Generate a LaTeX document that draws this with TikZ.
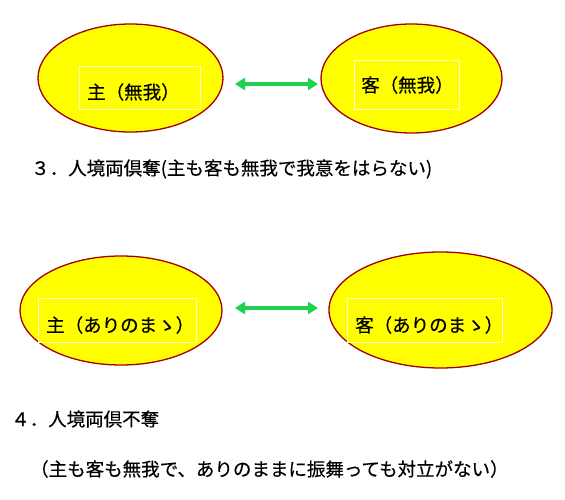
\documentclass[tikz,border=0pt]{standalone}
\usepackage{fontspec}
\setmainfont{Noto Sans CJK JP}[FakeBold=0.6,AutoFakeBold=0]
\newfontfamily\cjkfont{Noto Sans CJK JP}[FakeBold=0.4]
\usetikzlibrary{arrows.meta,shapes.geometric}
\definecolor{ellfill}{RGB}{255,255,0}
\definecolor{ellline}{RGB}{165,0,0}
\definecolor{arrgreen}{RGB}{30,210,80}
\definecolor{boxline}{RGB}{255,255,200}
\begin{document}
\begin{tikzpicture}[x=1pt,y=-1pt,
  ell/.style={ellipse,draw=ellline,fill=ellfill,line width=1.3pt,inner sep=0pt},
  tbox/.style={rectangle,draw=boxline,line width=0.7pt,inner sep=0pt},
  lbl/.style={inner sep=0pt,anchor=west,font=\cjkfont\fontsize{18.5}{22}\selectfont},
  arr/.style={arrgreen,line width=3.8pt,{Triangle[length=10pt,width=12pt]}-{Triangle[length=10pt,width=12pt]}}]
\useasboundingbox[fill=white] (0,0) rectangle (565,500);
% row 1
\node[ell,minimum width=185pt,minimum height=108pt] (e1) at (130.5,78) {};
\node[ell,minimum width=181pt,minimum height=109pt] (e2) at (411.5,78.5) {};
\node[tbox,minimum width=121pt,minimum height=43pt] (b1) at (139.5,87.5) {};
\node[tbox,minimum width=105pt,minimum height=49pt] (b2) at (406.5,84.5) {};
\node[lbl] (t1) at (87,92) {主（無我）};
\node[lbl] (t2) at (361,85) {客（無我）};
\coordinate (a1) at (235,84);
\coordinate (c1) at (318,84);
\draw[arr] (a1) -- (c1);
\node[lbl] (h3) at (31,169) {３．人境両倶奪(主も客も無我で我意をはらない)};
% row 2
\node[ell,minimum width=202pt,minimum height=109pt] (e3) at (121,310.5) {};
\node[ell,minimum width=223pt,minimum height=116pt] (e4) at (440.5,310) {};
\node[tbox,minimum width=158pt,minimum height=44pt] (b3) at (117,320) {};
\node[tbox,minimum width=155pt,minimum height=44pt] (b4) at (424.5,320) {};
\node[lbl] (t3) at (46,325) {主（ありのまゝ）};
\node[lbl] (t4) at (355,325) {客（ありのまゝ）};
\coordinate (a2) at (235,308);
\coordinate (c2) at (318,308);
\draw[arr] (a2) -- (c2);
\node[lbl] (h4) at (11,419) {４．人境両倶不奪};
\node[lbl] (h4b) at (30,469) {（主も客も無我で、ありのままに振舞っても対立がない）};
\end{tikzpicture}
\end{document}
